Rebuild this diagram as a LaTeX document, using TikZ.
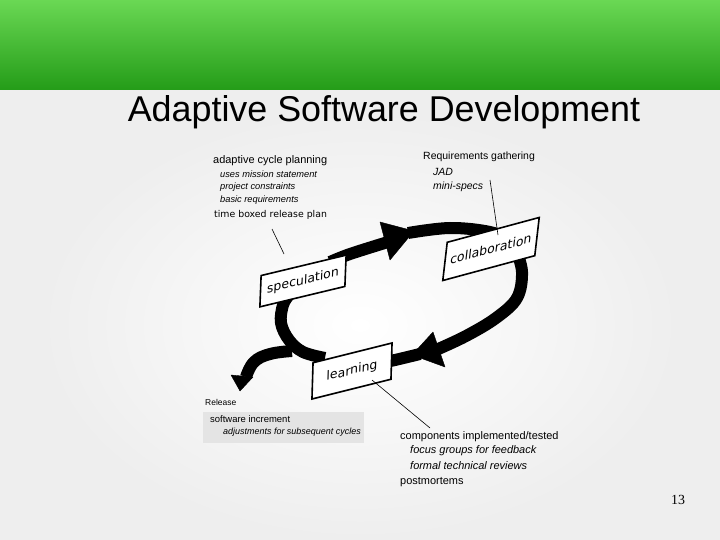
\documentclass[tikz,border=0pt]{standalone}
\usepackage{fontspec}
\setmainfont{Liberation Sans}
\newfontfamily\boxfont{DejaVu Sans}
\newfontfamily\numfont{Liberation Serif}
\usetikzlibrary{calc}
\definecolor{barlight}{RGB}{106,216,84}
\definecolor{bardark}{RGB}{36,156,24}
\definecolor{slidegray}{RGB}{238,238,238}
\definecolor{notegray}{RGB}{228,228,228}
\tikzstyle{stage} = [draw, line width=1.6bp, fill=white, inner sep=0pt, font=\boxfont\fontsize{12.5}{14}\selectfont]
\tikzstyle{band} = [line width=12bp, black]
\tikzstyle{head} = [fill=black, draw=black, line join=round]
\tikzstyle{lead} = [line width=0.6bp, black]
\tikzset{
	note/.style={anchor=base west, inner sep=0pt, font=\fontsize{#1}{#1}\selectfont},
	inote/.style={anchor=base west, inner sep=0pt, font=\fontsize{#1}{#1}\selectfont\itshape}
}

\begin{document}
\begin{tikzpicture}[x=1bp, y=-1bp]
  \useasboundingbox (0,0) rectangle (720,540);
  % slide
  \fill[slidegray] (0,88) rectangle (720,540);
  \shade[inner color=white, outer color=slidegray] (40,110) rectangle (680,540);
  \shade[top color=barlight, bottom color=bardark] (0,0) rectangle (720,90);
  \node[font=\fontsize{36}{40}\selectfont, anchor=base, inner sep=0pt] (title) at (384,122) {Adaptive Software Development};

  % the cycle
  \draw[band] plot[smooth, tension=0.6] coordinates {(330,262) (350,254) (388,242)};
  \draw[band] plot[smooth, tension=0.6] coordinates {(408,233) (450,228) (490,232) (515,242)};
  \draw[band] plot[smooth, tension=0.6] coordinates {(516,250) (522,272) (517,298) (496,318) (466,336) (436,350)};
  \draw[band] plot[smooth, tension=0.6] coordinates {(420,354) (395,360) (385,362)};
  \draw[band] plot[smooth, tension=0.6] coordinates {(325,358) (303,352) (289,340) (281,323) (283,305) (289,295)};
  \draw[band] plot[smooth, tension=0.7] coordinates {(292,351) (270,354) (254,362) (246,377)};
  \filldraw[head] (380,222) -- (414,231) -- (390,260) -- cycle;
  \filldraw[head] (433,332) -- (412,355) -- (445,367) -- cycle;
  \filldraw[head] (231,375) -- (240,391) -- (253,377) -- cycle;

  \node[stage, minimum width=85bp, minimum height=31bp, yslant=0.24, xslant=0.04] (spec) at (303,281) {speculation};
  \node[stage, minimum width=92bp, minimum height=37bp, yslant=0.27, xslant=0.12] (collab) at (491,249) {collaboration};
  \node[stage, minimum width=79bp, minimum height=36bp, yslant=0.25, xslant=0.03] (learn) at (352,371) {learning};

  % leaders
  \coordinate (planFoot) at (272,229);
  \coordinate (planTip) at (284,254);
  \coordinate (reqFoot) at (490,180);
  \coordinate (reqTip) at (498,235);
  \coordinate (learnFoot) at (372,380);
  \coordinate (compTip) at (430,428);
  \draw[lead] (planFoot) -- (planTip);
  \draw[lead] (reqFoot) -- (reqTip);
  \draw[lead] (learnFoot) -- (compTip);

  % speculation notes
  \node[note=11] (planA) at (213,164) {adaptive cycle planning};
  \node[inote=9.3] (planB) at (220,178) {uses mission statement};
  \node[inote=9.3] (planC) at (220,190) {project constraints};
  \node[inote=9.3] (planD) at (220,203) {basic requirements};
  \node[note=9.4, font=\boxfont\fontsize{9.4}{10}\selectfont] (planE) at (214,218) {time boxed release plan};

  % collaboration notes
  \node[note=10.5] (reqA) at (423,160) {Requirements gathering};
  \node[inote=10.5] (reqB) at (433,176) {JAD};
  \node[inote=10.5] (reqC) at (433,190) {mini-specs};

  % release notes
  \node[note=8.5] (relA) at (205,405) {Release};
  \node[fill=notegray, inner sep=0pt, minimum width=161bp, minimum height=31bp, anchor=north west] (relbox) at (203,412) {};
  \node[note=9.5] (relB) at (210,422) {software increment};
  \node[inote=9] (relC) at (223,434) {adjustments for subsequent cycles};

  % learning notes
  \node[note=11] (compA) at (400,439) {components implemented/tested};
  \node[inote=11] (compB) at (410,453) {focus groups for feedback};
  \node[inote=11] (compC) at (410,469) {formal technical reviews};
  \node[note=11] (compD) at (400,484) {postmortems};

  \node[font=\numfont\fontsize{14}{16}\selectfont, anchor=base, inner sep=0pt] (page) at (678,504) {13};
\end{tikzpicture}
\end{document}
